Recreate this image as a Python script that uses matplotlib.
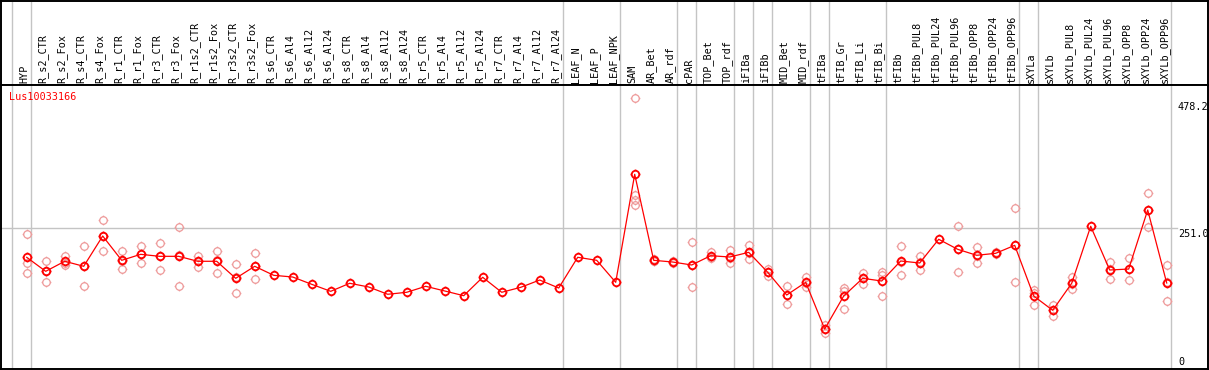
import numpy as np
import matplotlib
matplotlib.use("Agg")
import matplotlib.pyplot as plt
from matplotlib.path import Path

gene = "Lus10033166"

samples = ["HYP", "R_s2_CTR", "R_s2_Fox", "R_s4_CTR", "R_s4_Fox", "R_r1_CTR", "R_r1_Fox",
           "R_r3_CTR", "R_r3_Fox", "R_r1s2_CTR", "R_r1s2_Fox", "R_r3s2_CTR", "R_r3s2_Fox",
           "R_s6_CTR", "R_s6_Al4", "R_s6_Al12", "R_s6_Al24", "R_s8_CTR", "R_s8_Al4", "R_s8_Al12",
           "R_s8_Al24", "R_r5_CTR", "R_r5_Al4", "R_r5_Al12", "R_r5_Al24", "R_r7_CTR", "R_r7_Al4",
           "R_r7_Al12", "R_r7_Al24", "LEAF_N", "LEAF_P", "LEAF_NPK", "SAM", "AR_Bet", "AR_rdf",
           "cPAR", "TOP_Bet", "TOP_rdf", "iFIBa", "iFIBb", "MID_Bet", "MID_rdf", "tFIBa",
           "tFIB_Gr", "tFIB_Li", "tFIB_Bi", "tFIBb", "tFIBb_PUL8", "tFIBb_PUL24", "tFIBb_PUL96",
           "tFIBb_OPP8", "tFIBb_OPP24", "tFIBb_OPP96", "sXYLa", "sXYLb", "sXYLb_PUL8",
           "sXYLb_PUL24", "sXYLb_PUL96", "sXYLb_OPP8", "sXYLb_OPP24", "sXYLb_OPP96"]

# mean expression per sample
means = [199.5, 174.9, 192.5, 183.7, 236.8, 194.2, 204.7, 201.2, 201.2, 192.5, 192.5, 162.6,
         183.7, 167.9, 164.9, 152.1, 139.8, 153.9, 147.4, 134.6, 138.1, 148.6, 140.4, 132.1,
         164.4, 138.1, 146.8, 159.6, 145.6, 199.5, 194.2, 155.6, 345.1, 194.2, 191.2, 186.0,
         202.3, 200.0, 208.2, 173.2, 133.3, 155.6, 73.7, 131.6, 162.6, 157.9, 193.0, 189.5,
         231.1, 213.5, 203.0, 206.5, 220.5, 131.6, 106.5, 153.9, 253.9, 177.2, 178.9, 282.5,
         154.4]

# replicates (empty where only the mean is shown)
replicates = [
    [239.8, 189.0, 171.4], [193.0, 155.6, 176.1], [201.2, 186.0, 190.3], [218.8, 148.6, 183.7],
    [264.4, 210.0, 236.0], [210.5, 178.4, 193.7], [219.3, 190.0, 204.8], [224.6, 176.7, 202.3],
    [252.1, 148.6, 202.9], [202.3, 182.5, 192.7], [210.5, 172.5, 194.5], [187.2, 136.3, 164.3],
    [206.5, 160.9, 183.7],
    [], [], [], [], [], [], [], [], [], [], [], [], [], [], [], [], [], [], [],
    [478.2, 308.8, 300.0, 291.2],
    [197.0, 193.0, 192.5], [190.0, 193.0, 190.5],
    [225.8, 146.8, 185.4], [209.3, 197.7, 199.9], [212.3, 188.9, 198.8],
    [221.1, 196.0, 207.5], [178.4, 167.2, 174.0], [149.1, 118.1, 132.7], [164.9, 147.9, 154.0],
    [80.7, 66.1, 74.3], [146.1, 108.2, 140.5], [171.4, 152.6, 163.8], [174.2, 131.6, 167.9],
    [219.3, 167.9, 191.8], [201.2, 176.7, 190.6], [],
    [253.9, 173.2, 213.4], [217.5, 188.9, 202.6], [208.5, 204.5, 206.5], [285.4, 155.6, 220.5],
    [142.1, 115.3, 137.4], [115.8, 97.0, 106.7], [165.4, 143.9, 152.4], [],
    [191.2, 161.4, 179.0], [197.7, 159.6, 179.4], [311.8, 253.2, 282.5], [185.4, 122.3, 155.5],
]

# index of the first sample of each group
group_starts = [0, 1, 29, 32, 35, 36, 38, 39, 40, 42, 43, 46, 53, 54, 61]

ref_value = 251.0
max_value = 478.2

W, H = 1209, 370
fig = plt.figure(figsize=(W / 100, H / 100), dpi=100)


def px_axes(x0, y0, x1, y1):
    return fig.add_axes([x0 / W, 1 - y1 / H, (x1 - x0) / W, (y1 - y0) / H])


x = np.arange(len(samples))
xlim = ((1 - 26.7) / 19, (1208 - 26.7) / 19)

hdr = px_axes(1, 0.5, 1208, 85)
ax = px_axes(1, 85, 1208, 369)

for a in (hdr, ax):
    a.set_xlim(*xlim)
    a.set_xticks([])
    a.set_yticks([])
    for s in a.spines.values():
        s.set_linewidth(1.4)
        s.set_color("black")

hdr.set_ylim(85, 0)
ax.set_ylim(3.5, 501.8)

# group separators
for g in group_starts:
    for a in (hdr, ax):
        a.axvline(g - 15 / 19, color="#c4c4c4", lw=1, zorder=1)

# sample labels
for i, name in enumerate(samples):
    hdr.text(i - 0.13, 83, name, rotation=90, ha="center", va="bottom",
             family="DejaVu Sans Mono", fontsize=7.3)

# reference line
label_x = (1178 - 26.7) / 19
ax.plot([xlim[0], label_x - 0.05], [ref_value, ref_value], color="#c4c4c4", lw=1, zorder=1)

mono = dict(family="DejaVu Sans Mono", fontsize=7.3, ha="left")
ax.annotate(f"{max_value:.1f}", (label_x, max_value), xytext=(0, -4),
            textcoords="offset pixels", va="top", **mono)
ax.annotate(f"{ref_value:.1f}", (label_x, ref_value), xytext=(0, -1),
            textcoords="offset pixels", va="top", **mono)
ax.annotate("0", (label_x, 0), xycoords=("data", "axes fraction"), xytext=(0, 2),
            textcoords="offset pixels", va="bottom", **mono)

# circle marker with small ticks
circ = Path.unit_circle()
t = 1.3
ticks = Path([(0, 1), (0, t), (0, -1), (0, -t), (1, 0), (t, 0), (-1, 0), (-t, 0)],
             [Path.MOVETO, Path.LINETO] * 4)
marker = Path.make_compound_path(circ, ticks)

rx = [i for i, r in enumerate(replicates) for _ in r]
ry = [v for r in replicates for v in r]
ax.plot(rx, ry, ls="none", marker=marker, ms=7, mfc="none", mec="#ee9a9a", mew=0.9, zorder=2)

ax.plot(x, means, color="#ff0000", lw=0.9, zorder=3)
ax.plot(x, means, ls="none", marker=marker, ms=7, mfc="none", mec="#ff0000", mew=1.3, zorder=4)

fig.text(9 / W, 1 - 97 / H, gene, color="#ff0000", va="center", ha="left",
         family="DejaVu Sans Mono", fontsize=7.3)

fig.savefig("out.png", dpi=100)
